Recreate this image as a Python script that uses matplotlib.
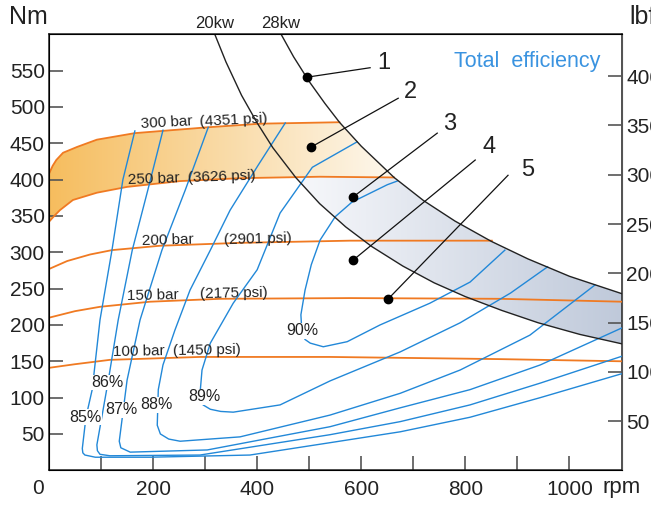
import numpy as np
import matplotlib
matplotlib.use('Agg')
import matplotlib.pyplot as plt
from matplotlib.patches import Polygon
from matplotlib.colors import LinearSegmentedColormap

plt.rcParams['font.family'] = ['Liberation Sans', 'DejaVu Sans']

# pressure lines: torque (Nm) against speed (rpm)
bar300_rpm = [0, 7, 14, 27, 54, 92, 165, 304, 406, 558]
bar300_nm = [408, 419, 427, 437, 445, 455, 464, 472, 477, 479]
bar250_rpm = [0, 10, 21, 46, 92, 150, 252, 367, 521, 663]
bar250_nm = [342, 350, 358, 372, 382, 390, 398, 402, 404, 403]
bar200_rpm = [0, 35, 79, 121, 213, 367, 578, 851]
bar200_nm = [277, 288, 297, 303, 309, 313, 316, 316]
bar150_rpm = [0, 50, 98, 194, 329, 578, 867, 1101]
bar150_nm = [210, 219, 225, 232, 236, 237, 236, 232]
bar100_rpm = [0, 50, 117, 290, 540, 867, 1101]
bar100_nm = [141, 146, 152, 156, 156, 153, 150]

# constant power curves
kw20_rpm = [318, 340, 370, 400, 430, 474, 520, 570, 620, 680, 740, 800, 870, 940, 1020, 1101]
kw20_nm = [601, 562, 516, 478, 444, 403, 367, 335, 308, 281, 258, 239, 220, 203, 187, 174]
kw28_rpm = [446, 470, 500, 530, 558, 600, 663, 720, 780, 850, 920, 1000, 1101]
kw28_nm = [600, 569, 535, 505, 479, 446, 403, 371, 343, 315, 291, 267, 243]

# total efficiency curves
eff85_rpm = [165, 142, 121, 98, 83, 71, 64, 65, 69, 89, 194, 386, 540, 675, 809, 944, 1101]
eff85_nm = [467, 400, 303, 207, 111, 73, 30, 24, 21, 18, 18, 21, 38, 53, 73, 100, 133]
eff86_rpm = [219, 190, 160, 133, 114, 92, 93, 98, 117, 290, 540, 675, 809, 944, 1101]
eff86_nm = [468, 386, 303, 207, 124, 35, 27, 22, 20, 21, 49, 67, 90, 120, 157]
eff87_rpm = [306, 262, 217, 175, 150, 135, 138, 156, 304, 540, 675, 809, 944, 1101]
eff87_nm = [472, 386, 303, 207, 124, 40, 31, 25, 28, 60, 86, 111, 145, 196]
eff88_rpm = [454, 402, 348, 310, 271, 242, 219, 210, 208, 214, 230, 252, 367, 540, 675, 790, 924, 1049]
eff88_nm = [478, 420, 358, 303, 248, 193, 145, 111, 62, 50, 43, 40, 46, 76, 106, 138, 186, 255]
eff89_rpm = [592, 506, 444, 400, 354, 310, 294, 290, 296, 310, 330, 354, 444, 540, 675, 790, 887, 958]
eff89_nm = [452, 417, 354, 276, 230, 175, 138, 104, 90, 84, 81, 80, 90, 123, 163, 203, 244, 280]
eff90_rpm = [669, 650, 582, 550, 521, 504, 492, 484, 486, 492, 502, 527, 573, 636, 732, 809, 876]
eff90_nm = [398, 393, 369, 349, 317, 283, 248, 214, 189, 180, 175, 170, 177, 200, 230, 259, 303]

pressure_labels = ['300 bar', '250 bar', '200 bar', '150 bar', '100 bar']
psi_labels = ['(4351 psi)', '(3626 psi)', '(2901 psi)', '(2175 psi)', '(1450 psi)']
eff_labels = ['85%', '86%', '87%', '88%', '89%', '90%']

# callout points 1-5
call_rpm = [496, 504, 584, 584, 652]
call_nm = [541, 445, 376, 289, 236]

orange = '#f07a22'
blue = '#2288d8'
ink = '#222222'

fig = plt.figure(figsize=(6.51, 5.05), dpi=100)
ax = fig.add_axes([49 / 651, 34.7 / 505, 573 / 651, 436 / 505])


def gradient_fill(pts, c0, c1, x0, x1):
    poly = Polygon(pts, closed=True, facecolor='none', edgecolor='none')
    ax.add_patch(poly)
    cmap = LinearSegmentedColormap.from_list('g', [c0, c1])
    im = ax.imshow(np.linspace(0, 1, 256).reshape(1, -1), cmap=cmap,
                   extent=[x0, x1, 0, 600], aspect='auto', origin='lower', zorder=1)
    im.set_clip_path(poly)


# orange band between 300 bar and 250 bar, limited by 28 kW
top = list(zip(bar300_rpm, bar300_nm))
side = [(r, t) for r, t in zip(kw28_rpm, kw28_nm) if bar300_rpm[-1] < r < bar250_rpm[-1]]
bottom = list(zip(bar250_rpm, bar250_nm))[::-1]
gradient_fill(top + side + bottom, '#f6bd5e', '#fdf8ee', 0, 663)

# blue band between 20 kW and 28 kW below 250 bar
start = [(r, t) for r, t in zip(kw20_rpm, kw20_nm) if t == 403]
upper = [(r, t) for r, t in zip(bar250_rpm, bar250_nm) if start[0][0] < r]
right = [(r, t) for r, t in zip(kw28_rpm, kw28_nm) if r > bar250_rpm[-1]]
lower = [(r, t) for r, t in zip(kw20_rpm, kw20_nm) if r >= start[0][0]][::-1]
gradient_fill(upper + right + lower, '#f7f8fb', '#bfc9da', 474, 1101)

for r, t in [(bar300_rpm, bar300_nm), (bar250_rpm, bar250_nm), (bar200_rpm, bar200_nm),
             (bar150_rpm, bar150_nm), (bar100_rpm, bar100_nm)]:
    ax.plot(r, t, color=orange, lw=1.3, zorder=3)

eff_curves = [(eff85_rpm, eff85_nm), (eff86_rpm, eff86_nm), (eff87_rpm, eff87_nm),
              (eff88_rpm, eff88_nm), (eff89_rpm, eff89_nm), (eff90_rpm, eff90_nm)]
for r, t in eff_curves:
    ax.plot(r, t, color=blue, lw=1.0, zorder=3, solid_joinstyle='round')

ax.plot(kw20_rpm, kw20_nm, color=ink, lw=1.0, zorder=4)
ax.plot(kw28_rpm, kw28_nm, color=ink, lw=1.0, zorder=4)

# pressure labels
p_pos = [(175, 471), (152, 394), (179, 310), (150, 234), (123, 157)]
s_pos = [(288, 474), (267, 397), (335, 312), (290, 237), (238, 159)]
p_rot = [3, 2, 1.5, 1, 1]
for lab, pos, rot in zip(pressure_labels, p_pos, p_rot):
    ax.text(pos[0], pos[1], lab, fontsize=11, rotation=rot, ha='left', va='baseline',
            color=ink, zorder=6)
for lab, pos, rot in zip(psi_labels, s_pos, p_rot):
    ax.text(pos[0], pos[1], lab, fontsize=11, rotation=rot, ha='left', va='baseline',
            color=ink, zorder=6)

# efficiency labels
e_pos = [(70, 73), (113, 121), (140, 83), (206, 90), (299, 101), (486, 192)]
for lab, pos in zip(eff_labels, e_pos):
    ax.text(pos[0], pos[1], lab, fontsize=11.5, ha='center', va='center', color=ink, zorder=6,
            bbox=dict(facecolor='white', edgecolor='none', pad=0.2))

# callouts
tip = [(617, 554), (671, 512), (746, 464), (819, 427), (882, 406)]
num_pos = [(644, 561), (694, 520), (769, 476), (846, 445), (919, 413)]
for i, (r, t) in enumerate(zip(call_rpm, call_nm)):
    ax.plot([r, tip[i][0]], [t, tip[i][1]], color='#111111', lw=0.9, zorder=5)
    ax.plot(r, t, 'o', color='black', ms=6, zorder=6)
    ax.text(num_pos[i][0], num_pos[i][1], str(i + 1), fontsize=17, ha='center', va='center',
            color=ink, zorder=6)

ax.text(919, 563, 'Total  efficiency', color='#3a93e0', fontsize=15.5, ha='center', va='center')

ax.set_xlim(0, 1101)
ax.set_ylim(0, 600)
ax.set_xticks(range(100, 1001, 100))
ax.set_xticklabels(['', '200', '', '400', '', '600', '', '800', '', '1000'])
ax.set_yticks(range(50, 551, 50))
ax.tick_params(axis='both', direction='in', length=10, width=1.2, color='#555555',
               labelsize=15, labelcolor=ink)
ax.tick_params(axis='x', pad=7)
ax.tick_params(axis='y', pad=3)
for s in ax.spines.values():
    s.set_color(ink)
    s.set_linewidth(1.1)

ax2 = ax.twinx()
ax2.set_ylim(0, 600 * 0.7376)
ax2.set_yticks(range(50, 401, 50))
ax2.tick_params(axis='y', direction='in', length=10, width=1.2, color='#555555',
                labelsize=15, labelcolor=ink, pad=3)
ax2.spines['right'].set_color('#555555')

fig.text(215 / 651, 1 - 24 / 505, '20kw', fontsize=12, ha='center', va='center', color=ink)
fig.text(281 / 651, 1 - 24 / 505, '28kw', fontsize=12, ha='center', va='center', color=ink)
fig.text(28 / 651, 1 - 17 / 505, 'Nm', fontsize=18, ha='center', va='center', color=ink)
fig.text(629 / 651, 1 - 17 / 505, 'lbf', fontsize=18, ha='left', va='center', color=ink)
fig.text(622 / 651, 1 - 488 / 505, 'rpm', fontsize=16, ha='center', va='center', color=ink)
fig.text(38 / 651, 1 - 489 / 505, '0', fontsize=15, ha='center', va='center', color=ink)

fig.savefig('out.png', dpi=100)
